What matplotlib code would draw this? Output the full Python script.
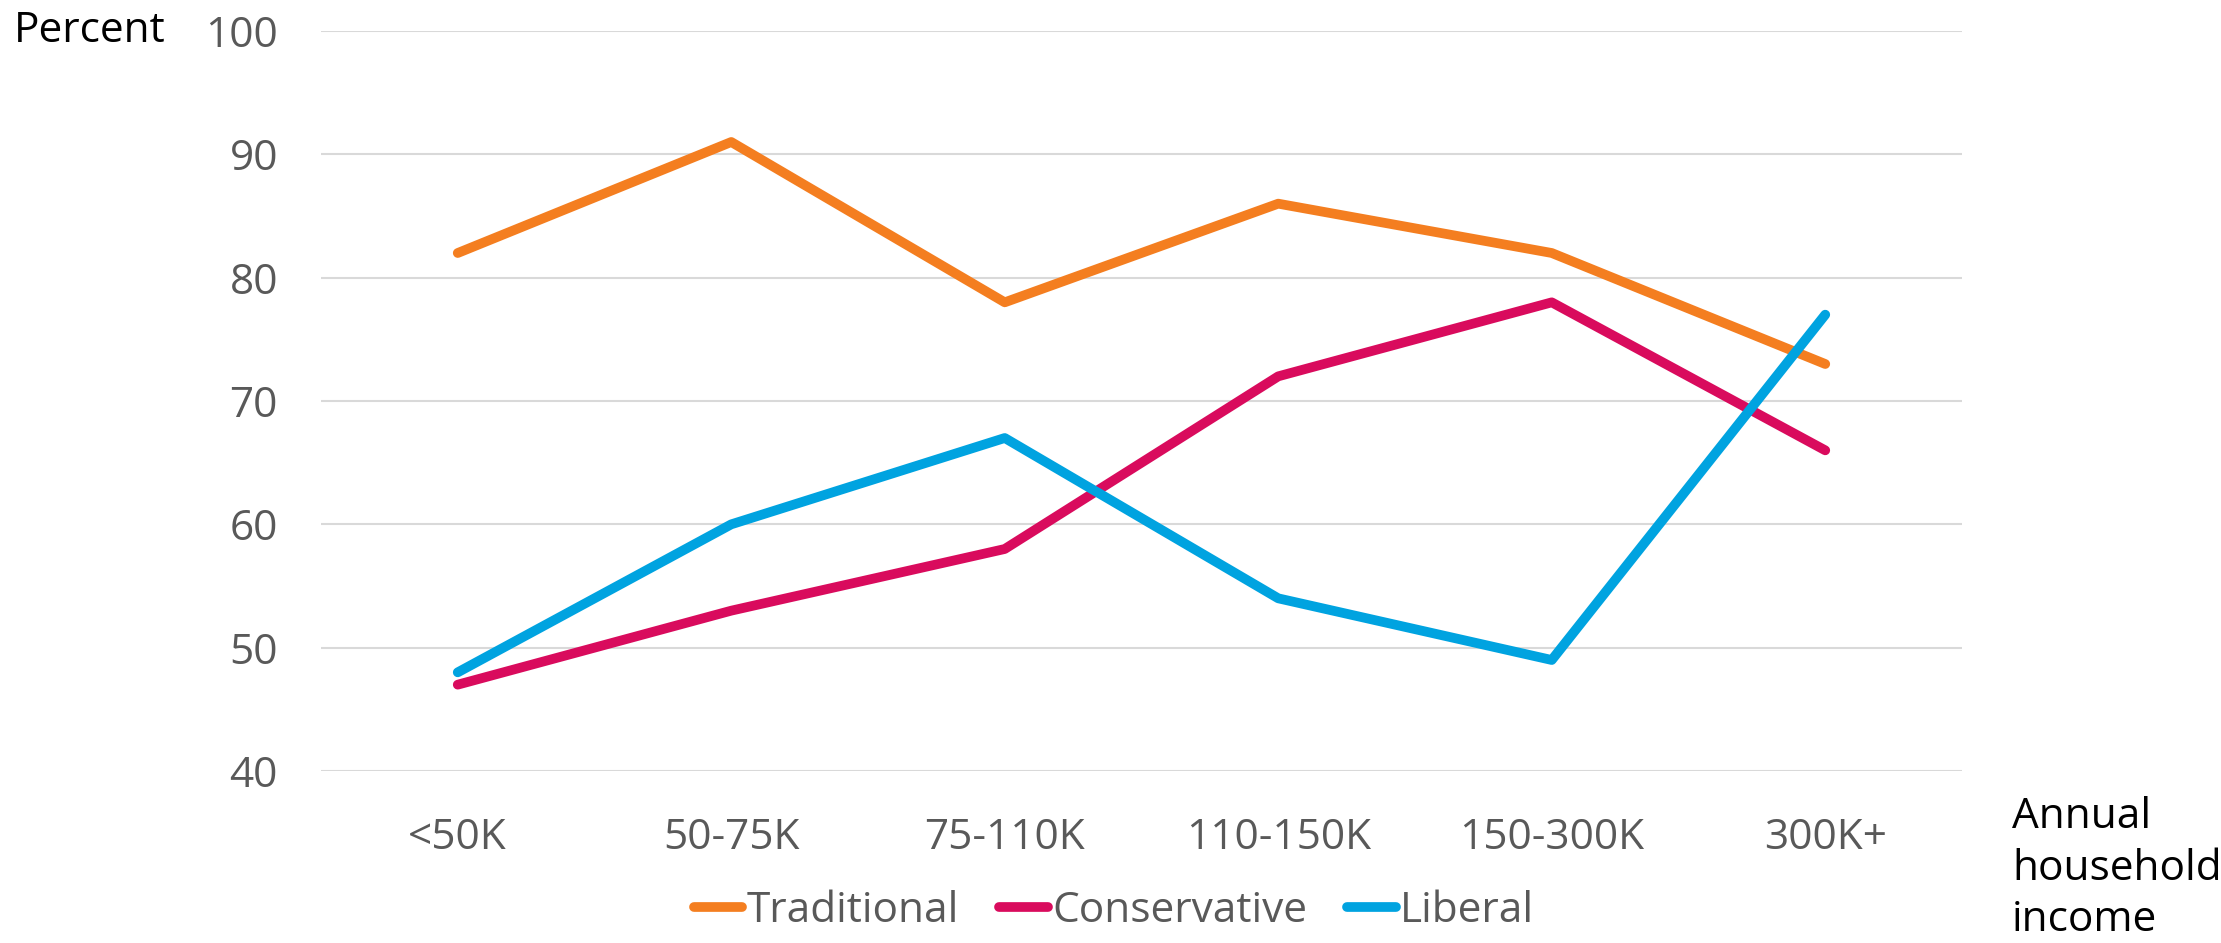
import matplotlib
matplotlib.use("Agg")
import matplotlib.pyplot as plt

categories = ["<50K", "50-75K", "75-110K", "110-150K", "150-300K", "300K+"]
traditional = [82, 91, 78, 86, 82, 73]
conservative = [47, 53, 58, 72, 78, 66]
liberal = [48, 60, 67, 54, 49, 77]
y_ticks = [40, 50, 60, 70, 80, 90, 100]

plt.rcParams["font.family"] = ["Open Sans", "DejaVu Sans"]
FS = 30.5

fig = plt.figure(figsize=(22.21, 9.43), dpi=100)
ax = fig.add_axes([321 / 2221, 1 - 771 / 943, (1962 - 321) / 2221, (771 - 31) / 943])

x = list(range(len(categories)))
series = [
    ("Traditional", traditional, "#F47E20"),
    ("Conservative", conservative, "#D90B5D"),
    ("Liberal", liberal, "#00A3E0"),
]
for name, vals, col in series:
    ax.plot(x, vals, color=col, lw=7, label=name, solid_capstyle="round",
            solid_joinstyle="round", zorder=3)

ax.set_xlim(-0.5, len(categories) - 0.5)
ax.set_ylim(40, 100)
ax.set_yticks(y_ticks)
ax.set_xticks(x)
ax.set_xticklabels(categories)
ax.grid(axis="y", color="#D9D9D9", lw=1.5)
ax.set_axisbelow(True)
for s in ["top", "right", "left", "bottom"]:
    ax.spines[s].set_visible(False)
ax.tick_params(axis="both", length=0, labelsize=FS, labelcolor="#595959")
ax.tick_params(axis="y", pad=31)
ax.tick_params(axis="x", pad=33)

fig.text(14 / 2221, 1 - 31 / 943, "Percent", fontsize=FS, color="black",
         va="center", ha="left")
fig.text(2012 / 2221, 1 - 796 / 943, "Annual\nhousehold\nincome", fontsize=FS,
         color="black", va="top", ha="left", linespacing=1.3)

leg = fig.legend(loc="center", bbox_to_anchor=(1114 / 2221, 1 - 911 / 943),
                 ncol=3, frameon=False, fontsize=FS, handlelength=1.15,
                 handletextpad=0.1, columnspacing=0.95)
for t in leg.get_texts():
    t.set_color("#595959")
for h in leg.get_lines():
    h.set_solid_capstyle("round")

fig.savefig("out.png", dpi=100)
